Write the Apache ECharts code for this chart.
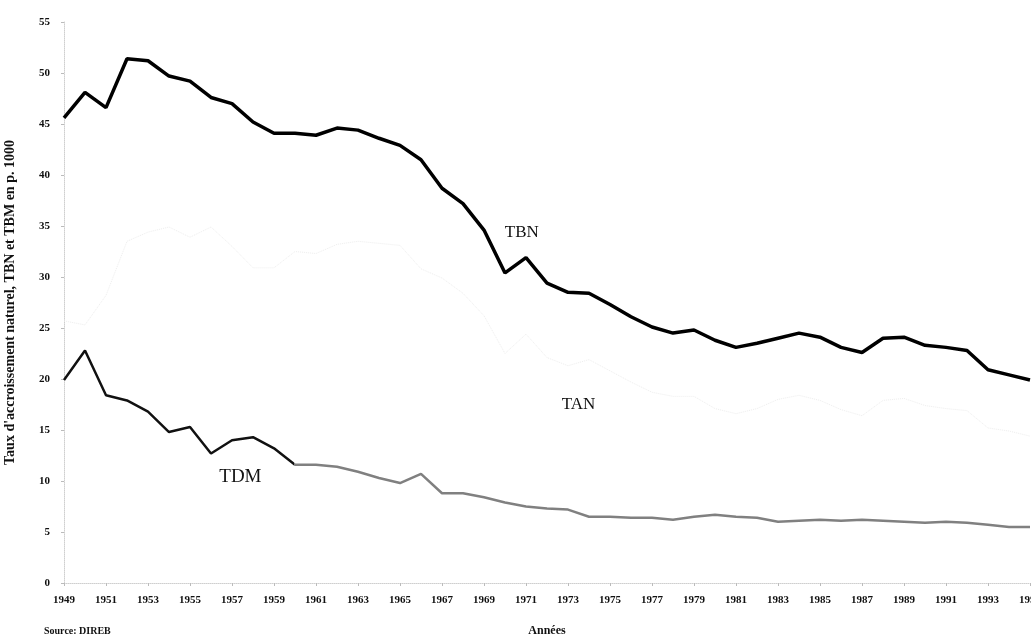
<!DOCTYPE html>
<html>
<head>
<meta charset="utf-8">
<script src="https://cdn.jsdelivr.net/npm/echarts@6/dist/echarts.min.js"></script>
<style>
  html, body { margin: 0; padding: 0; background: #fff; }
  #main { width: 1031px; height: 643px; }
</style>
</head>
<body>
<div id="main"></div>
<script>
var years = [1949, 1950, 1951, 1952, 1953, 1954, 1955, 1956, 1957, 1958,
  1959, 1960, 1961, 1962, 1963, 1964, 1965, 1966, 1967, 1968,
  1969, 1970, 1971, 1972, 1973, 1974, 1975, 1976, 1977, 1978,
  1979, 1980, 1981, 1982, 1983, 1984, 1985, 1986, 1987, 1988,
  1989, 1990, 1991, 1992, 1993, 1994, 1995];

// taux brut de natalite (p. 1000)
var tbn = [45.6, 48.1, 46.6, 51.4, 51.2, 49.7, 49.2, 47.6, 47.0, 45.2,
  44.1, 44.1, 43.9, 44.6, 44.4, 43.6, 42.9, 41.5, 38.7, 37.2,
  34.6, 30.4, 31.9, 29.4, 28.5, 28.4, 27.3, 26.1, 25.1, 24.5,
  24.8, 23.8, 23.1, 23.5, 24.0, 24.5, 24.1, 23.1, 22.6, 24.0,
  24.1, 23.3, 23.1, 22.8, 20.9, 20.4, 19.9];

// taux brut de mortalite
var tbm = [19.9, 22.8, 18.4, 17.9, 16.8, 14.8, 15.3, 12.7, 14.0, 14.3,
  13.2, 11.6, 11.6, 11.4, 10.9, 10.3, 9.8, 10.7, 8.8, 8.8,
  8.4, 7.9, 7.5, 7.3, 7.2, 6.5, 6.5, 6.4, 6.4, 6.2,
  6.5, 6.7, 6.5, 6.4, 6.0, 6.1, 6.2, 6.1, 6.2, 6.1,
  6.0, 5.9, 6.0, 5.9, 5.7, 5.5, 5.5];

// taux d'accroissement naturel (trace tres pale sur l'original)
var tan = [25.7, 25.3, 28.2, 33.5, 34.4, 34.9, 33.9, 34.9, 33.0, 30.9,
  30.9, 32.5, 32.3, 33.2, 33.5, 33.3, 33.1, 30.8, 29.9, 28.4,
  26.2, 22.5, 24.4, 22.1, 21.3, 21.9, 20.8, 19.7, 18.7, 18.3,
  18.3, 17.1, 16.6, 17.1, 18.0, 18.4, 17.9, 17.0, 16.4, 17.9,
  18.1, 17.4, 17.1, 16.9, 15.2, 14.9, 14.4];

var yTicks = [0, 5, 10, 15, 20, 25, 30, 35, 40, 45, 50, 55];

function pairs(vals) {
  return years.map(function (y, i) { return [y, vals[i]]; });
}

var serif = 'Liberation Serif';
var myChart = echarts.init(document.getElementById('main'));

// TBM: noir jusqu'en 1960 puis gris (scan delave)
var cut = (1960 - years[0]) / (years[years.length - 1] - years[0]);
var tbmColor = new echarts.graphic.LinearGradient(0, 0, 1, 0, [
  { offset: 0, color: '#111' },
  { offset: cut, color: '#111' },
  { offset: cut, color: '#808080' },
  { offset: 1, color: '#808080' }
]);

var option = {
  animation: false,
  backgroundColor: '#fff',
  grid: { left: 64, right: 1, top: 22, bottom: 60, outerBoundsMode: 'none' },
  xAxis: {
    type: 'value',
    min: years[0],
    max: years[years.length - 1],
    interval: 2,
    name: 'Années',
    nameLocation: 'middle',
    nameGap: 42,
    nameTextStyle: { fontFamily: serif, fontWeight: 'bold', fontSize: 12, color: '#111' },
    splitLine: { show: false },
    axisLine: { lineStyle: { color: '#cfcfcf', type: 'dotted' } },
    axisTick: { length: 3, lineStyle: { color: '#bbb' } },
    axisLabel: {
      fontFamily: serif, fontWeight: 'bold', fontSize: 11, color: '#111', margin: 12,
      formatter: function (v) { return String(v); }
    }
  },
  yAxis: {
    type: 'value',
    min: yTicks[0],
    max: yTicks[yTicks.length - 1],
    interval: 5,
    name: "Taux d'accroissement naturel, TBN et TBM en p. 1000",
    nameLocation: 'middle',
    nameGap: 47,
    nameRotate: 90,
    nameTextStyle: { fontFamily: serif, fontWeight: 'bold', fontSize: 14, color: '#111' },
    splitLine: { show: false },
    axisLine: { show: true, lineStyle: { color: '#cfcfcf', type: 'dotted' } },
    axisTick: { show: true, length: 3, lineStyle: { color: '#bbb' } },
    axisLabel: { fontFamily: serif, fontWeight: 'bold', fontSize: 11, color: '#111', margin: 14 }
  },
  series: [
    {
      name: 'TBN',
      type: 'line',
      data: pairs(tbn),
      showSymbol: false,
      lineStyle: { color: '#000', width: 3.5 },
      markPoint: {
        symbol: 'circle', symbolSize: 0,
        label: { show: true, color: '#111', fontFamily: serif, fontSize: 17, formatter: '{b}' },
        data: [{ name: 'TBN', coord: [1970.8, 34.4] }]
      }
    },
    {
      name: 'TBM',
      type: 'line',
      data: pairs(tbm),
      showSymbol: false,
      lineStyle: { color: tbmColor, width: 2.5 },
      markPoint: {
        symbol: 'circle', symbolSize: 0,
        label: { show: true, color: '#111', fontFamily: serif, fontSize: 19, formatter: '{b}' },
        data: [{ name: 'TDM', coord: [1957.4, 10.4] }]
      }
    },
    {
      name: 'TAN',
      type: 'line',
      data: pairs(tan),
      showSymbol: false,
      lineStyle: { color: '#eeeeee', width: 1, type: 'dotted' },
      markPoint: {
        symbol: 'circle', symbolSize: 0,
        label: { show: true, color: '#111', fontFamily: serif, fontSize: 17, formatter: '{b}' },
        data: [{ name: 'TAN', coord: [1973.5, 17.5] }]
      }
    }
  ],
  graphic: [
    {
      type: 'text', left: 44, top: 626,
      style: { text: 'Source: DIREB', font: 'bold 10px "Liberation Serif"', fill: '#111' }
    }
  ]
};

myChart.setOption(option);
</script>
</body>
</html>
